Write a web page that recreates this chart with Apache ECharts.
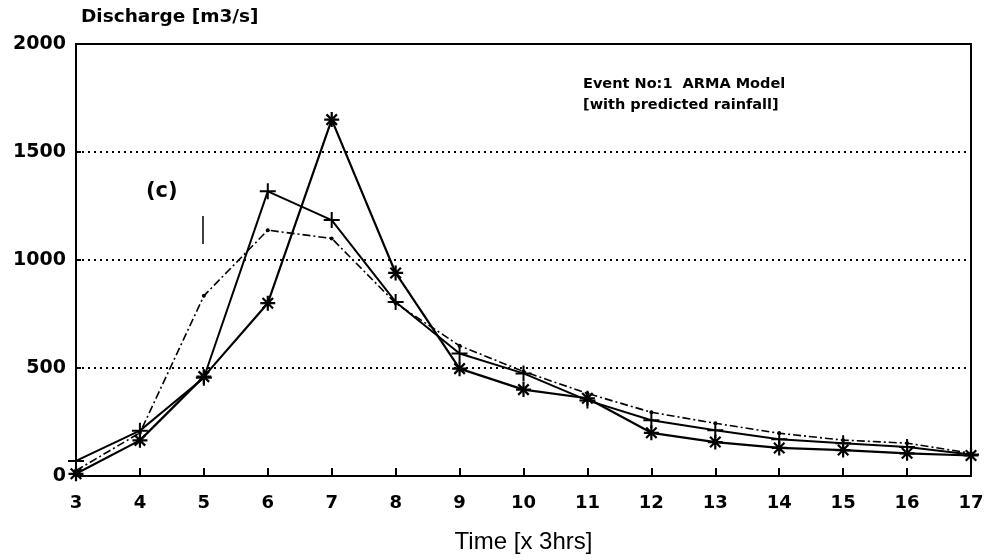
<!DOCTYPE html>
<html>
<head>
<meta charset="utf-8">
<script src="https://cdn.jsdelivr.net/npm/echarts@6/dist/echarts.min.js"></script>
<style>
  html, body { margin: 0; padding: 0; background: #fff; }
  #chart { width: 990px; height: 560px; }
</style>
</head>
<body>
<div id="chart"></div>
<script>
// time steps (x 3 hrs)
var timeSteps = [3, 4, 5, 6, 7, 8, 9, 10, 11, 12, 13, 14, 15, 16, 17];
// asterisk line (peak at 7)
var starValues = [10, 165, 460, 800, 1650, 940, 497, 400, 360, 200, 157, 130, 120, 105, 95];
// plus line (peak at 6)
var plusValues = [70, 210, 455, 1318, 1185, 806, 567, 475, 350, 258, 212, 170, 152, 134, 100];
// dash-dot line with dots
var dotValues = [25, 200, 834, 1138, 1100, 800, 603, 484, 382, 295, 244, 198, 166, 152, 105];
var yTicks = [0, 500, 1000, 1500, 2000];

var asterisk = 'path://M0,-10L0,10M-10,0L10,0M-7,-7L7,7M-7,7L7,-7';
var plus = 'path://M0,-10L0,10M-10,0L10,0';
var labelFont = 'DejaVu Sans';

function pairs(vals) {
  var out = [];
  for (var i = 0; i < timeSteps.length; i++) {
    out.push([timeSteps[i], vals[i]]);
  }
  return out;
}

var myChart = echarts.init(document.getElementById('chart'));
var option = {
  backgroundColor: '#fff',
  animation: false,
  grid: {
    left: 76, right: 19, top: 44, bottom: 84,
    show: true, borderColor: '#000', borderWidth: 2, backgroundColor: 'transparent'
  },
  title: {
    text: 'Discharge [m3/s]',
    left: 76, top: 3,
    textStyle: { fontFamily: labelFont, fontSize: 18.5, fontWeight: 'bold', color: '#000' }
  },
  xAxis: {
    type: 'value', min: 3, max: 17, interval: 1,
    name: 'Time [x 3hrs]', nameLocation: 'middle', nameGap: 54,
    nameTextStyle: { fontFamily: 'Liberation Sans', fontSize: 24, color: '#000' },
    axisLine: { lineStyle: { color: '#000', width: 2 } },
    axisTick: { inside: true, length: 8, lineStyle: { color: '#000', width: 2 } },
    axisLabel: { fontFamily: labelFont, fontSize: 18, fontWeight: 'bold', color: '#000', margin: 18 },
    splitLine: { show: false }
  },
  yAxis: {
    type: 'value', min: 0, max: 2000, interval: 500,
    axisLine: { lineStyle: { color: '#000', width: 2 } },
    axisTick: { show: true, inside: true, length: 5, lineStyle: { color: '#000', width: 2 } },
    axisLabel: {
      fontFamily: labelFont, fontSize: 19, fontWeight: 'bold', color: '#000', margin: 10,
      formatter: function (v) { return yTicks.indexOf(v) >= 0 ? String(v) : ''; }
    },
    splitLine: { show: true, lineStyle: { color: '#000', type: [2, 4], width: 2 } }
  },
  graphic: [
    { type: 'text', left: 583, top: 77, style: { text: 'Event No:1  ARMA Model', fontFamily: labelFont, fontSize: 14.5, fontWeight: 'bold', fill: '#000' } },
    { type: 'text', left: 583, top: 98, style: { text: '[with predicted rainfall]', fontFamily: labelFont, fontSize: 14.5, fontWeight: 'bold', fill: '#000' } },
    { type: 'text', left: 146, top: 181, style: { text: '(c)', fontFamily: labelFont, fontSize: 21, fontWeight: 'bold', fill: '#000' } },
    { type: 'line', shape: { x1: 203, y1: 216, x2: 203, y2: 244 }, style: { stroke: '#000', lineWidth: 1.5 } }
  ],
  series: [
    {
      name: 'star', type: 'line', data: pairs(starValues),
      symbol: asterisk, symbolSize: 15, showAllSymbol: true,
      lineStyle: { color: '#000', width: 2.2 },
      itemStyle: { color: 'none', borderColor: '#000', borderWidth: 2.2 }
    },
    {
      name: 'plus', type: 'line', data: pairs(plusValues),
      symbol: plus, symbolSize: 16, showAllSymbol: true,
      lineStyle: { color: '#000', width: 2 },
      itemStyle: { color: 'none', borderColor: '#000', borderWidth: 2 }
    },
    {
      name: 'dot', type: 'line', data: pairs(dotValues),
      symbol: 'circle', symbolSize: 4, showAllSymbol: true,
      lineStyle: { color: '#000', width: 1.6, type: [8, 3, 2, 3] },
      itemStyle: { color: '#000' }
    }
  ]
};
myChart.setOption(option);
</script>
</body>
</html>
